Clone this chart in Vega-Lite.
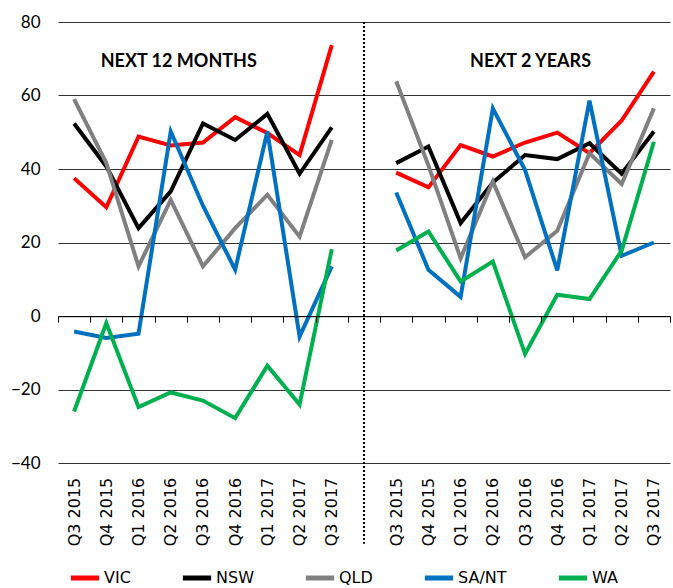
{
  "$schema": "https://vega.github.io/schema/vega-lite/v6.json",
  "width": 612,
  "height": 441,
  "autosize": {"type": "none"},
  "padding": {"left": 58, "top": 22, "right": 3, "bottom": 125},
  "background": "white",
  "config": {"view": {"stroke": null}, "font": "DejaVu Sans"},
  "datasets": {
    "series": [
      {"panel": "N12", "period": "N12|Q3 2015", "series": "VIC", "value": 37.5},
      {"panel": "N12", "period": "N12|Q4 2015", "series": "VIC", "value": 29.6},
      {"panel": "N12", "period": "N12|Q1 2016", "series": "VIC", "value": 48.8},
      {"panel": "N12", "period": "N12|Q2 2016", "series": "VIC", "value": 46.4},
      {"panel": "N12", "period": "N12|Q3 2016", "series": "VIC", "value": 47.2},
      {"panel": "N12", "period": "N12|Q4 2016", "series": "VIC", "value": 54.1},
      {"panel": "N12", "period": "N12|Q1 2017", "series": "VIC", "value": 49.8},
      {"panel": "N12", "period": "N12|Q2 2017", "series": "VIC", "value": 43.8},
      {"panel": "N12", "period": "N12|Q3 2017", "series": "VIC", "value": 73.7},
      {"panel": "N2Y", "period": "N2Y|Q3 2015", "series": "VIC", "value": 39.0},
      {"panel": "N2Y", "period": "N2Y|Q4 2015", "series": "VIC", "value": 35.0},
      {"panel": "N2Y", "period": "N2Y|Q1 2016", "series": "VIC", "value": 46.5},
      {"panel": "N2Y", "period": "N2Y|Q2 2016", "series": "VIC", "value": 43.4},
      {"panel": "N2Y", "period": "N2Y|Q3 2016", "series": "VIC", "value": 47.2},
      {"panel": "N2Y", "period": "N2Y|Q4 2016", "series": "VIC", "value": 49.9},
      {"panel": "N2Y", "period": "N2Y|Q1 2017", "series": "VIC", "value": 44.3},
      {"panel": "N2Y", "period": "N2Y|Q2 2017", "series": "VIC", "value": 53.2},
      {"panel": "N2Y", "period": "N2Y|Q3 2017", "series": "VIC", "value": 66.5},

      {"panel": "N12", "period": "N12|Q3 2015", "series": "NSW", "value": 52.4},
      {"panel": "N12", "period": "N12|Q4 2015", "series": "NSW", "value": 40.7},
      {"panel": "N12", "period": "N12|Q1 2016", "series": "NSW", "value": 23.9},
      {"panel": "N12", "period": "N12|Q2 2016", "series": "NSW", "value": 33.9},
      {"panel": "N12", "period": "N12|Q3 2016", "series": "NSW", "value": 52.4},
      {"panel": "N12", "period": "N12|Q4 2016", "series": "NSW", "value": 47.9},
      {"panel": "N12", "period": "N12|Q1 2017", "series": "NSW", "value": 55.0},
      {"panel": "N12", "period": "N12|Q2 2017", "series": "NSW", "value": 38.7},
      {"panel": "N12", "period": "N12|Q3 2017", "series": "NSW", "value": 51.3},
      {"panel": "N2Y", "period": "N2Y|Q3 2015", "series": "NSW", "value": 41.6},
      {"panel": "N2Y", "period": "N2Y|Q4 2015", "series": "NSW", "value": 46.1},
      {"panel": "N2Y", "period": "N2Y|Q1 2016", "series": "NSW", "value": 25.3},
      {"panel": "N2Y", "period": "N2Y|Q2 2016", "series": "NSW", "value": 36.3},
      {"panel": "N2Y", "period": "N2Y|Q3 2016", "series": "NSW", "value": 43.8},
      {"panel": "N2Y", "period": "N2Y|Q4 2016", "series": "NSW", "value": 42.7},
      {"panel": "N2Y", "period": "N2Y|Q1 2017", "series": "NSW", "value": 47.0},
      {"panel": "N2Y", "period": "N2Y|Q2 2017", "series": "NSW", "value": 38.7},
      {"panel": "N2Y", "period": "N2Y|Q3 2017", "series": "NSW", "value": 50.2},

      {"panel": "N12", "period": "N12|Q3 2015", "series": "QLD", "value": 59.0},
      {"panel": "N12", "period": "N12|Q4 2015", "series": "QLD", "value": 41.6},
      {"panel": "N12", "period": "N12|Q1 2016", "series": "QLD", "value": 13.5},
      {"panel": "N12", "period": "N12|Q2 2016", "series": "QLD", "value": 31.6},
      {"panel": "N12", "period": "N12|Q3 2016", "series": "QLD", "value": 13.5},
      {"panel": "N12", "period": "N12|Q4 2016", "series": "QLD", "value": 23.9},
      {"panel": "N12", "period": "N12|Q1 2017", "series": "QLD", "value": 33.0},
      {"panel": "N12", "period": "N12|Q2 2017", "series": "QLD", "value": 21.6},
      {"panel": "N12", "period": "N12|Q3 2017", "series": "QLD", "value": 47.9},
      {"panel": "N2Y", "period": "N2Y|Q3 2015", "series": "QLD", "value": 63.9},
      {"panel": "N2Y", "period": "N2Y|Q4 2015", "series": "QLD", "value": 41.0},
      {"panel": "N2Y", "period": "N2Y|Q1 2016", "series": "QLD", "value": 15.7},
      {"panel": "N2Y", "period": "N2Y|Q2 2016", "series": "QLD", "value": 36.6},
      {"panel": "N2Y", "period": "N2Y|Q3 2016", "series": "QLD", "value": 16.0},
      {"panel": "N2Y", "period": "N2Y|Q4 2016", "series": "QLD", "value": 23.2},
      {"panel": "N2Y", "period": "N2Y|Q1 2017", "series": "QLD", "value": 44.3},
      {"panel": "N2Y", "period": "N2Y|Q2 2017", "series": "QLD", "value": 35.9},
      {"panel": "N2Y", "period": "N2Y|Q3 2017", "series": "QLD", "value": 56.5},

      {"panel": "N12", "period": "N12|Q3 2015", "series": "SA/NT", "value": -4.2},
      {"panel": "N12", "period": "N12|Q4 2015", "series": "SA/NT", "value": -6.0},
      {"panel": "N12", "period": "N12|Q1 2016", "series": "SA/NT", "value": -4.8},
      {"panel": "N12", "period": "N12|Q2 2016", "series": "SA/NT", "value": 50.2},
      {"panel": "N12", "period": "N12|Q3 2016", "series": "SA/NT", "value": 30.0},
      {"panel": "N12", "period": "N12|Q4 2016", "series": "SA/NT", "value": 12.6},
      {"panel": "N12", "period": "N12|Q1 2017", "series": "SA/NT", "value": 50.2},
      {"panel": "N12", "period": "N12|Q2 2017", "series": "SA/NT", "value": -5.6},
      {"panel": "N12", "period": "N12|Q3 2017", "series": "SA/NT", "value": 13.5},
      {"panel": "N2Y", "period": "N2Y|Q3 2015", "series": "SA/NT", "value": 33.6},
      {"panel": "N2Y", "period": "N2Y|Q4 2015", "series": "SA/NT", "value": 12.6},
      {"panel": "N2Y", "period": "N2Y|Q1 2016", "series": "SA/NT", "value": 5.2},
      {"panel": "N2Y", "period": "N2Y|Q2 2016", "series": "SA/NT", "value": 56.5},
      {"panel": "N2Y", "period": "N2Y|Q3 2016", "series": "SA/NT", "value": 39.7},
      {"panel": "N2Y", "period": "N2Y|Q4 2016", "series": "SA/NT", "value": 12.4},
      {"panel": "N2Y", "period": "N2Y|Q1 2017", "series": "SA/NT", "value": 58.6},
      {"panel": "N2Y", "period": "N2Y|Q2 2017", "series": "SA/NT", "value": 16.4},
      {"panel": "N2Y", "period": "N2Y|Q3 2017", "series": "SA/NT", "value": 20.0},

      {"panel": "N12", "period": "N12|Q3 2015", "series": "WA", "value": -26.0},
      {"panel": "N12", "period": "N12|Q4 2015", "series": "WA", "value": -1.9},
      {"panel": "N12", "period": "N12|Q1 2016", "series": "WA", "value": -24.8},
      {"panel": "N12", "period": "N12|Q2 2016", "series": "WA", "value": -20.8},
      {"panel": "N12", "period": "N12|Q3 2016", "series": "WA", "value": -23.0},
      {"panel": "N12", "period": "N12|Q4 2016", "series": "WA", "value": -27.8},
      {"panel": "N12", "period": "N12|Q1 2017", "series": "WA", "value": -13.5},
      {"panel": "N12", "period": "N12|Q2 2017", "series": "WA", "value": -24.1},
      {"panel": "N12", "period": "N12|Q3 2017", "series": "WA", "value": 18.2},
      {"panel": "N2Y", "period": "N2Y|Q3 2015", "series": "WA", "value": 17.8},
      {"panel": "N2Y", "period": "N2Y|Q4 2015", "series": "WA", "value": 23.0},
      {"panel": "N2Y", "period": "N2Y|Q1 2016", "series": "WA", "value": 9.4},
      {"panel": "N2Y", "period": "N2Y|Q2 2016", "series": "WA", "value": 14.8},
      {"panel": "N2Y", "period": "N2Y|Q3 2016", "series": "WA", "value": -10.3},
      {"panel": "N2Y", "period": "N2Y|Q4 2016", "series": "WA", "value": 5.8},
      {"panel": "N2Y", "period": "N2Y|Q1 2017", "series": "WA", "value": 4.6},
      {"panel": "N2Y", "period": "N2Y|Q2 2017", "series": "WA", "value": 17.8},
      {"panel": "N2Y", "period": "N2Y|Q3 2017", "series": "WA", "value": 47.4}
    ]
  },
  "layer": [
    {
      "data": {"name": "series"},
      "mark": {"type": "line", "strokeWidth": 4, "strokeCap": "butt"},
      "encoding": {
        "x": {
          "field": "period",
          "type": "nominal",
          "sort": null,
          "scale": {
            "type": "band",
            "paddingInner": 0,
            "paddingOuter": 0,
            "domain": ["N12|Q3 2015", "N12|Q4 2015", "N12|Q1 2016", "N12|Q2 2016", "N12|Q3 2016", "N12|Q4 2016", "N12|Q1 2017", "N12|Q2 2017", "N12|Q3 2017", "gap", "N2Y|Q3 2015", "N2Y|Q4 2015", "N2Y|Q1 2016", "N2Y|Q2 2016", "N2Y|Q3 2016", "N2Y|Q4 2016", "N2Y|Q1 2017", "N2Y|Q2 2017", "N2Y|Q3 2017"]
          },
          "axis": {
            "title": null,
            "orient": "bottom",
            "offset": -146.8,
            "zindex": 1,
            "domainColor": "#000000",
            "domainWidth": 1,
            "tickBand": "extent",
            "tickColor": "#000000",
            "tickSize": 6,
            "tickWidth": 1,
            "labelAngle": 270,
            "labelAlign": "right",
            "labelBaseline": "middle",
            "labelPadding": 155,
            "labelFont": "DejaVu Sans",
            "labelFontSize": 16,
            "labelColor": "#000000",
            "labelOverlap": false,
            "labelExpr": "datum.value == 'gap' ? '' : split(datum.value, '|')[1]",
            "grid": false
          }
        },
        "y": {
          "field": "value",
          "type": "quantitative",
          "scale": {"domain": [-40, 80], "nice": false, "zero": false},
          "axis": {
            "title": null,
            "values": [-40, -20, 0, 20, 40, 60, 80],
            "domain": false,
            "ticks": false,
            "tickSize": 0,
            "labelPadding": 18,
            "labelFont": "Lato",
            "labelFontSize": 17,
            "labelColor": "#000000",
            "grid": true,
            "gridColor": "#333333",
            "gridWidth": 1
          }
        },
        "color": {
          "field": "series",
          "type": "nominal",
          "scale": {
            "domain": ["VIC", "NSW", "QLD", "SA/NT", "WA"],
            "range": ["#FF0000", "#000000", "#808080", "#0070C0", "#00B050"]
          },
          "legend": {
            "title": null,
            "orient": "bottom",
            "direction": "horizontal",
            "symbolType": "stroke",
            "symbolSize": 800,
            "symbolStrokeWidth": 5,
            "labelFont": "DejaVu Sans",
            "labelFontSize": 16,
            "labelColor": "#000000",
            "labelOffset": 2,
            "columnPadding": 41,
            "padding": 10,
            "offset": 5
          }
        },
        "detail": {"field": "panel", "type": "nominal"}
      }
    },
    {
      "data": {"values": [{}]},
      "mark": {"type": "rule", "strokeDash": [2, 2], "strokeWidth": 2, "color": "#000000"},
      "encoding": {
        "x": {"datum": "gap"},
        "y": {"datum": 80},
        "y2": {"datum": -62}
      }
    },
    {
      "data": {"values": [{}]},
      "mark": {"type": "text", "text": "NEXT 12 MONTHS", "font": "Lato", "fontWeight": "bold", "fontSize": 18, "baseline": "middle", "align": "center", "dx": 8, "color": "#000000"},
      "encoding": {
        "x": {"datum": "N12|Q2 2016"},
        "y": {"datum": 69.2}
      }
    },
    {
      "data": {"values": [{}]},
      "mark": {"type": "text", "text": "NEXT 2 YEARS", "font": "Lato", "fontWeight": "bold", "fontSize": 18, "baseline": "middle", "align": "center", "dx": 5.5, "color": "#000000"},
      "encoding": {
        "x": {"datum": "N2Y|Q3 2016"},
        "y": {"datum": 69.2}
      }
    }
  ]
}
